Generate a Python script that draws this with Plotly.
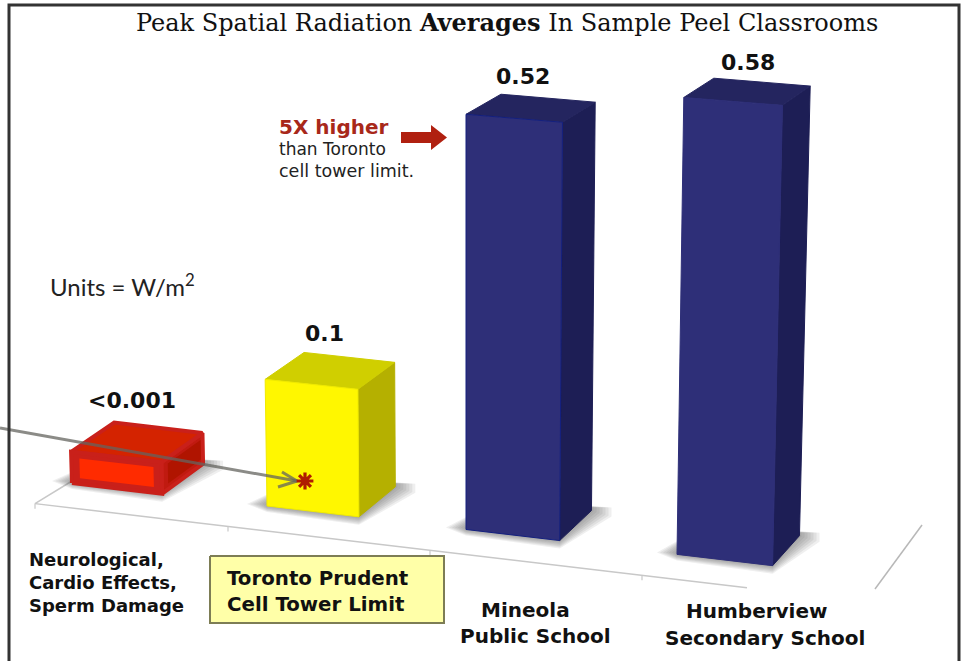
import plotly.graph_objects as go

# ---- data ----
categories = ["Neurological, Cardio Effects, Sperm Damage",
              "Toronto Prudent Cell Tower Limit",
              "Mineola Public School",
              "Humberview Secondary School"]
value_labels = ["<0.001", "0.1", "0.52", "0.58"]
# drawn height of each column in the picture's own (non-linear) perspective
drawn_heights = [32, 128, 413, 447]

title_parts = ["Peak Spatial Radiation ", "Averages", " In Sample Peel Classrooms"]
note_lines = ["5X higher", "than Toronto", "cell tower limit."]
units_text = "Units = W/m<sup>2</sup>"

# ---- styles and layout ----
front_colors = ["#c9201a", "#fff700", "#2e2f78", "#2e2f78"]
top_colors = ["#d42300", "#d0cf00", "#24255f", "#24255f"]
side_colors = ["#c01a10", "#b5b000", "#1d1e55", "#1d1e55"]
edge_colors = ["#c9201a", "#f0ea00", "#14207f", "#2e2f78"]
value_label_pos = [(132, 400), (324, 333), (523, 76), (748, 62)]
slot_lefts = [72, 267, 466, 677]
FONT = "DejaVu Sans"
GILL = "Lato"
SERIF = "DejaVu Serif"


# ---- simple perspective model of the slanted floor ----
def slot_width(p):
    return 89.5 + 0.009 * p


def floor_y(p):
    return 483 + 0.118 * (p - 72)


def project(p, d, h):
    """p along the floor, d in depth (0 front, 1 back), h up."""
    x0 = p + d * (43 - 0.023 * (p - 72))
    y0 = floor_y(p) - d * (30 - 0.024 * h)
    x = x0 + (x0 - 466) * 7.2e-5 * h
    y = y0 - h * (1 + 8e-5 * (p - 400))
    return x, y


def poly(points, color, line=None, width=0, name=None):
    xs = [q[0] for q in points] + [points[0][0]]
    ys = [q[1] for q in points] + [points[0][1]]
    return go.Scatter(x=xs, y=ys, mode="lines", fill="toself", fillcolor=color,
                      line=dict(color=line or color, width=width),
                      hoverinfo="skip", showlegend=False, name=name)


def stroke(xs, ys, color, width):
    return go.Scatter(x=xs, y=ys, mode="lines", line=dict(color=color, width=width),
                      hoverinfo="skip", showlegend=False)


fig = go.Figure()

# floor
FRONT_OFFSET = 25
floor_left, floor_right = 35, 747
fig.add_trace(stroke([72, floor_left, floor_right],
                     [481, floor_y(floor_left) + FRONT_OFFSET, floor_y(floor_right) + FRONT_OFFSET],
                     "#c8c8c8", 1.5))
fig.add_trace(stroke([875, 922], [589, 525], "#b8b8b8", 1.5))
for tick in [35, 228, 430, 642]:
    yy = floor_y(tick) + FRONT_OFFSET
    fig.add_trace(stroke([tick, tick], [yy, yy + 5], "#c8c8c8", 1.2))

# shadows then columns
for i, h in enumerate(drawn_heights):
    p = slot_lefts[i]
    w = slot_width(p)
    fl, fr = project(p, 0, 0), project(p + w, 0, 0)
    br, bl = project(p + w, 1, 0), project(p, 1, 0)
    for grow in [20, 17, 14, 11, 8, 5, 2]:
        fig.add_trace(poly([(fl[0] - grow, fl[1] - 2), (fl[0], fl[1] + grow * 0.3),
                            (fr[0], fr[1] + grow * 0.4), (br[0] + grow, br[1] + grow * 0.3),
                            (br[0] + grow, br[1] - 3), (bl[0], bl[1])],
                           "rgba(70,70,70,0.085)"))

for i, h in enumerate(drawn_heights):
    p = slot_lefts[i]
    w = slot_width(p)
    A, B = project(p, 0, 0), project(p + w, 0, 0)
    C, D = project(p + w, 0, h), project(p, 0, h)
    E, F = project(p + w, 1, 0), project(p + w, 1, h)
    G = project(p, 1, h)
    lw = 4 if i == 0 else 1
    fig.add_trace(poly([B, E, F, C], side_colors[i], edge_colors[i] if i == 0 else side_colors[i], lw))
    fig.add_trace(poly([D, C, F, G], top_colors[i], edge_colors[i] if i == 0 else top_colors[i], lw))
    fig.add_trace(poly([A, B, C, D], front_colors[i], edge_colors[i], lw))
    if i == 0:  # bevelled look of the small red box
        m = 0.09
        inner = [project(p + m * w, 0, 0.18 * h), project(p + (1 - m) * w, 0, 0.18 * h),
                 project(p + (1 - m) * w, 0, 0.82 * h), project(p + m * w, 0, 0.82 * h)]
        fig.add_trace(poly(inner, "#ff2b00"))
        side_in = [project(p + w, 0.15, 0.18 * h), project(p + w, 0.95, 0.18 * h),
                   project(p + w, 0.95, 0.82 * h), project(p + w, 0.15, 0.82 * h)]
        fig.add_trace(poly(side_in, "#b01400"))

# pointer from the left edge to the asterisk
pointer = "rgba(100,100,95,0.75)"
fig.add_trace(stroke([0, 297], [428, 481], pointer, 3))
fig.add_trace(stroke([282, 297, 278], [472, 481, 487], pointer, 3))
fig.add_trace(go.Scatter(x=[305], y=[481], mode="markers",
                         marker=dict(symbol="asterisk-open", size=14, color="#b01c00",
                                     line=dict(color="#b01c00", width=3.2)),
                         hoverinfo="skip", showlegend=False))

# block arrow
fig.add_trace(poly([(401, 132), (431, 132), (431, 125), (447, 137.5),
                    (431, 150), (431, 143), (401, 143)], "#b02010"))

# label box
fig.add_trace(poly([(210, 556), (444, 556), (444, 623), (210, 623)], "#ffffa8", "#7d7d55", 2))

# frame
fig.add_trace(stroke([9, 9, 959, 959], [661, 5, 5, 661], "#333333", 3))

annotations = []


def label(x, y, text, size, family=FONT, color="#111111", anchor="center"):
    annotations.append(dict(x=x, y=y, text=text, showarrow=False, xanchor=anchor, yanchor="middle",
                            font=dict(family=family, size=size, color=color)))


# title
label(507, 22, title_parts[0] + "<b>" + title_parts[1] + "</b>" + title_parts[2], 24, SERIF)

# value labels above columns
for (vx, vy), t in zip(value_label_pos, value_labels):
    label(vx, vy, "<b>" + t + "</b>", 22)

# category labels
label(27, 559, "<b>Neurological,</b>", 18, anchor="left")
label(27, 582, "<b>Cardio Effects,</b>", 18, anchor="left")
label(27, 605, "<b>Sperm Damage</b>", 18, anchor="left")
label(225, 578, "<b>Toronto Prudent</b>", 19.8, anchor="left")
label(225, 604, "<b>Cell Tower Limit</b>", 19.8, anchor="left")
label(525, 610, "<b>Mineola</b>", 20)
label(535, 636, "<b>Public School</b>", 20)
label(757, 611, "<b>Humberview</b>", 20)
label(765, 638, "<b>Secondary School</b>", 20)

# notes
label(277, 127, "<b>" + note_lines[0] + "</b>", 20, FONT, "#a8281a", "left")
label(277, 149, note_lines[1], 17, FONT, "#222222", "left")
label(277, 171, note_lines[2], 17.5, FONT, "#222222", "left")
label(48, 285, units_text, 24, GILL, "#222222", "left")

fig.update_layout(
    width=962, height=661, margin=dict(l=0, r=0, t=0, b=0),
    paper_bgcolor="white", plot_bgcolor="white", showlegend=False,
    xaxis=dict(range=[0, 962], visible=False, fixedrange=True),
    yaxis=dict(range=[661, 0], visible=False, fixedrange=True),
    annotations=annotations,
)
fig.write_html("out.html", config=dict(displayModeBar=False),
               post_script="document.body.style.margin='0';document.body.style.overflow='hidden';")
